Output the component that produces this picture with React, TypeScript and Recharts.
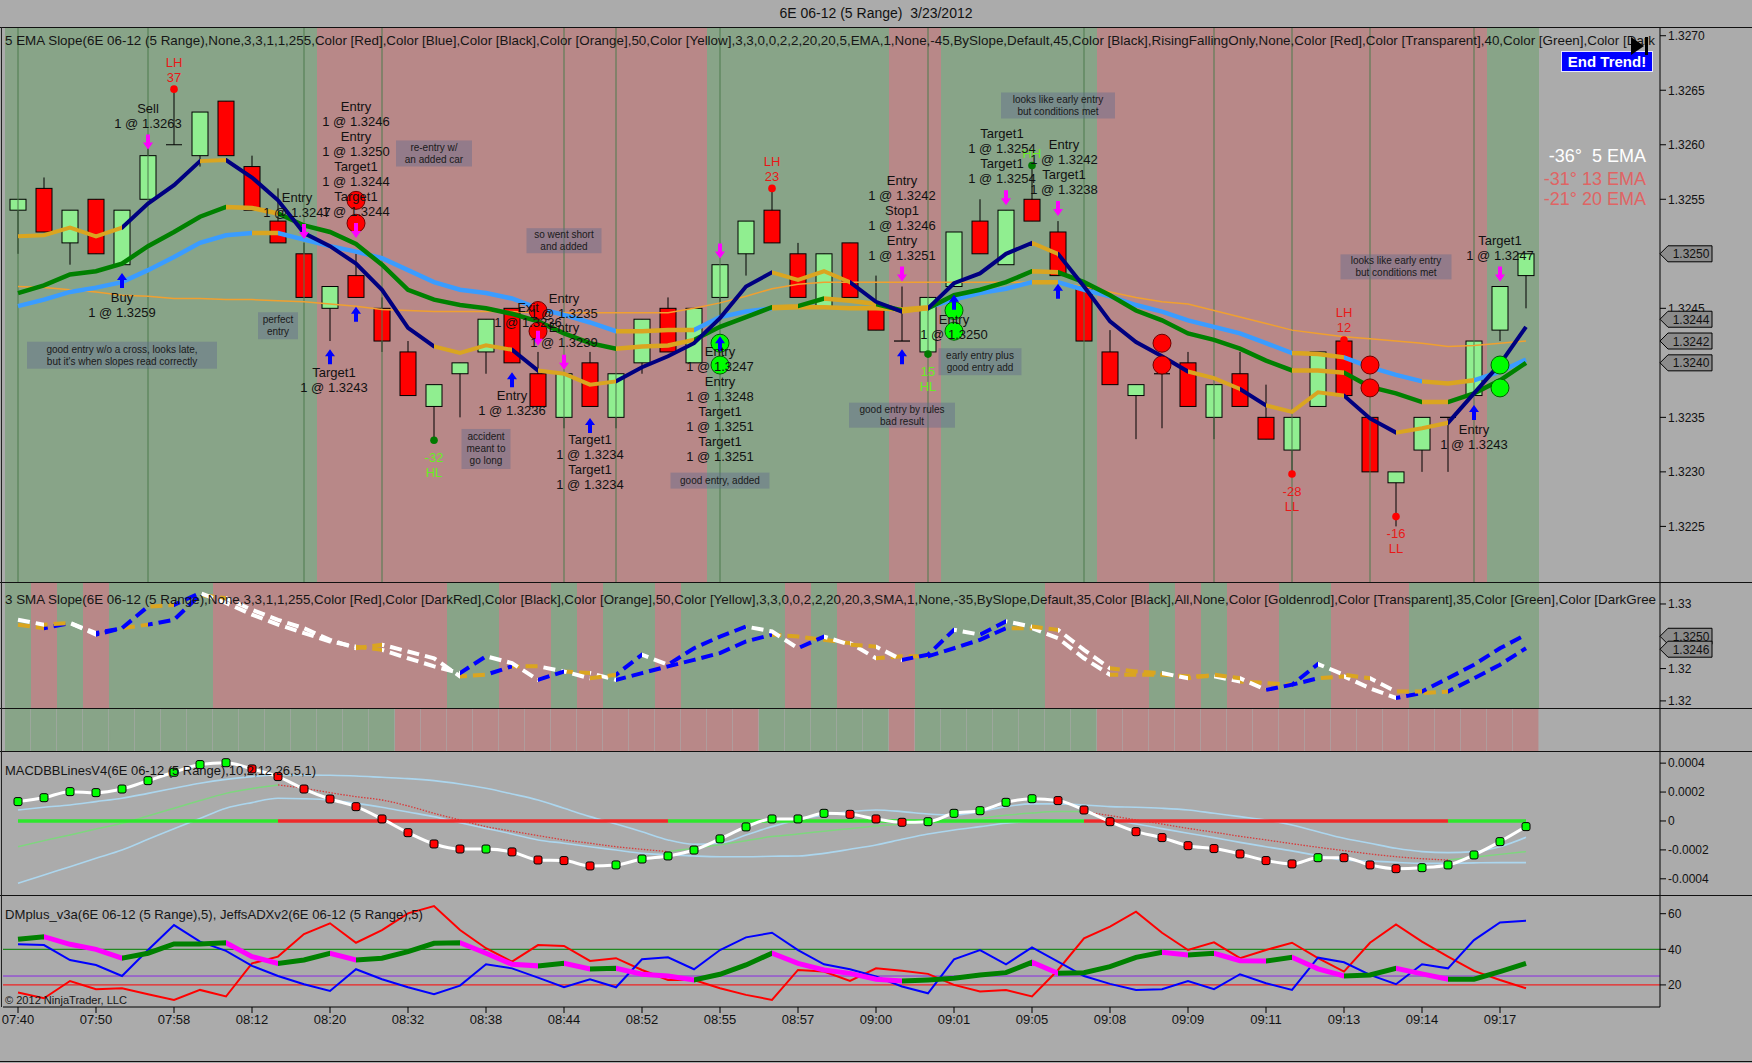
import React from "react";
import {
  ComposedChart,
  Bar,
  Line,
  XAxis,
  YAxis,
  ReferenceArea,
  ReferenceLine,
  ReferenceDot,
  Cell,
} from "recharts";

const FONT = '"Liberation Sans", Arial, sans-serif';
const W = 1752;
const H = 1063;
const AXIS_W = 92;
const SLOTS = 63;
const X_PAD = { left: 2, right: 17 };
const MARGIN = { top: 0, right: 0, bottom: 0, left: 3 };
const GREEN_BG = "#88a488";
const RED_BG = "#b88888";
const GOLD = "#daa520";

const runs = (spec: [string, number][]) => spec.map(([c, n]) => c.repeat(n)).join("");

const timeLabels = ["07:40", "07:50", "07:58", "08:12", "08:20", "08:32", "08:38", "08:44", "08:52", "08:55",
  "08:57", "09:00", "09:01", "09:05", "09:08", "09:09", "09:11", "09:13", "09:14", "09:17"];
const timeTicks = timeLabels.map((_, k) => k * 3);

// 5 range bars
const opens = [1.3254, 1.3256, 1.3251, 1.3255, 1.3249, 1.3255, 1.3260, 1.3259, 1.3264, 1.3258,
  1.3253, 1.3250, 1.3245, 1.3248, 1.3245, 1.3241, 1.3236, 1.3239, 1.3241, 1.3245,
  1.3239, 1.3235, 1.3240, 1.3235, 1.3240, 1.3245, 1.3240, 1.3246, 1.3250, 1.3254,
  1.3250, 1.3245, 1.3251, 1.3245, 1.3242, 1.3241, 1.3247, 1.3253, 1.3249, 1.3255,
  1.3252, 1.3247, 1.3241, 1.3237, 1.3239, 1.3240, 1.3235, 1.3239, 1.3235, 1.3232,
  1.3236, 1.3242, 1.3235, 1.3229, 1.3232, 1.3235, 1.3237, 1.3243, 1.3248];
const highs = [1.3255, 1.3257, 1.3254, 1.3255, 1.3254, 1.3260, 1.3265, 1.3263, 1.3264, 1.3259,
  1.3256, 1.3251, 1.3247, 1.3250, 1.3246, 1.3242, 1.3238, 1.3240, 1.3244, 1.3245,
  1.3241, 1.3239, 1.3241, 1.3239, 1.3244, 1.3246, 1.3245, 1.3249, 1.3253, 1.3256,
  1.3251, 1.3250, 1.3251, 1.3248, 1.3247, 1.3246, 1.3252, 1.3255, 1.3254, 1.3258,
  1.3253, 1.3247, 1.3243, 1.3238, 1.3239, 1.3241, 1.3238, 1.3241, 1.3238, 1.3235,
  1.3241, 1.3242, 1.3235, 1.3230, 1.3235, 1.3235, 1.3242, 1.3247, 1.3250];
const lows = [1.3250, 1.3252, 1.3249, 1.3250, 1.3249, 1.3255, 1.3260, 1.3258, 1.3259, 1.3254,
  1.3251, 1.3246, 1.3242, 1.3246, 1.3241, 1.3237, 1.3233, 1.3235, 1.3239, 1.3240,
  1.3236, 1.3234, 1.3236, 1.3234, 1.3239, 1.3241, 1.3240, 1.3244, 1.3248, 1.3251,
  1.3246, 1.3245, 1.3246, 1.3243, 1.3242, 1.3241, 1.3247, 1.3250, 1.3249, 1.3253,
  1.3248, 1.3242, 1.3238, 1.3233, 1.3234, 1.3236, 1.3233, 1.3236, 1.3233, 1.3230,
  1.3236, 1.3237, 1.3230, 1.3225, 1.3230, 1.3230, 1.3237, 1.3242, 1.3245];
const closes = [1.3255, 1.3252, 1.3254, 1.3250, 1.3254, 1.3259, 1.3260, 1.3263, 1.3259, 1.3254,
  1.3251, 1.3246, 1.3247, 1.3246, 1.3242, 1.3237, 1.3238, 1.3240, 1.3244, 1.3240,
  1.3236, 1.3239, 1.3236, 1.3239, 1.3244, 1.3241, 1.3245, 1.3249, 1.3253, 1.3251,
  1.3246, 1.3250, 1.3246, 1.3243, 1.3242, 1.3246, 1.3252, 1.3250, 1.3254, 1.3253,
  1.3248, 1.3242, 1.3238, 1.3238, 1.3239, 1.3236, 1.3238, 1.3236, 1.3233, 1.3235,
  1.3241, 1.3237, 1.3230, 1.3230, 1.3235, 1.3235, 1.3242, 1.3247, 1.3250];

// moving averages (n = slope colour, o = flat)
const ema5 = [1.32516, 1.32517, 1.32524, 1.32516, 1.32524, 1.32546, 1.32563, 1.32585, 1.32586, 1.32570,
  1.32549, 1.32519, 1.32507, 1.32491, 1.32467, 1.32432, 1.32415, 1.32409, 1.32416, 1.32412,
  1.32393, 1.32390, 1.32380, 1.32383, 1.32396, 1.32406, 1.32418, 1.32441, 1.32470, 1.32483,
  1.32476, 1.32484, 1.32474, 1.32456, 1.32447, 1.32450, 1.32473, 1.32482, 1.32500, 1.32510,
  1.32500, 1.32470, 1.32438, 1.32419, 1.32406, 1.32392, 1.32386, 1.32376, 1.32361, 1.32355,
  1.32373, 1.32370, 1.32349, 1.32336, 1.32340, 1.32345, 1.32372, 1.32399, 1.32433];
const ema5Slope = runs([["o", 4], ["n", 3], ["o", 1], ["n", 8], ["o", 3], ["n", 1], ["o", 3], ["n", 6], ["o", 3], ["n", 2],
  ["o", 1], ["n", 4], ["o", 1], ["n", 5], ["o", 2], ["n", 1], ["o", 3], ["n", 2], ["o", 2], ["n", 3]]);
const ema13 = [1.32464, 1.32471, 1.32481, 1.32484, 1.32491, 1.32507, 1.32520, 1.32534, 1.32543, 1.32542,
  1.32537, 1.32526, 1.32520, 1.32509, 1.32490, 1.32467, 1.32458, 1.32453, 1.32450, 1.32445,
  1.32438, 1.32427, 1.32418, 1.32413, 1.32415, 1.32416, 1.32421, 1.32433, 1.32442, 1.32451,
  1.32452, 1.32459, 1.32457, 1.32454, 1.32448, 1.32450, 1.32462, 1.32467, 1.32474, 1.32484,
  1.32483, 1.32474, 1.32462, 1.32448, 1.32439, 1.32427, 1.32421, 1.32413, 1.32402, 1.32393,
  1.32393, 1.32391, 1.32378, 1.32372, 1.32364, 1.32364, 1.32372, 1.32384, 1.32400];
const ema13Slope = runs([["n", 8], ["o", 2], ["n", 13], ["o", 3], ["n", 3], ["o", 1], ["n", 1], ["o", 2], ["n", 1], ["o", 1],
  ["n", 4], ["o", 1], ["n", 9], ["o", 2], ["n", 3], ["o", 1], ["n", 3]]);
const ema20 = [1.32452, 1.32458, 1.32465, 1.32469, 1.32474, 1.32485, 1.32497, 1.32510, 1.32517, 1.32519,
  1.32519, 1.32513, 1.32507, 1.32502, 1.32496, 1.32485, 1.32474, 1.32467, 1.32464, 1.32459,
  1.32450, 1.32444, 1.32437, 1.32429, 1.32429, 1.32430, 1.32430, 1.32442, 1.32447, 1.32450,
  1.32451, 1.32451, 1.32450, 1.32450, 1.32449, 1.32451, 1.32458, 1.32464, 1.32468, 1.32474,
  1.32474, 1.32467, 1.32461, 1.32453, 1.32447, 1.32439, 1.32433, 1.32427, 1.32418, 1.32409,
  1.32408, 1.32405, 1.32396, 1.32389, 1.32383, 1.32381, 1.32384, 1.32392, 1.32403];
const ema20Slope = runs([["n", 9], ["o", 1], ["n", 13], ["o", 3], ["n", 3], ["o", 6], ["n", 4], ["o", 1], ["n", 9], ["o", 2],
  ["n", 3], ["o", 2], ["n", 2]]);
const ema50 = [1.32470, 1.32469, 1.32467, 1.32465, 1.32462, 1.32461, 1.32459, 1.32459, 1.32458, 1.32458,
  1.32457, 1.32456, 1.32454, 1.32452, 1.32449, 1.32448, 1.32447, 1.32447, 1.32447, 1.32447,
  1.32446, 1.32446, 1.32446, 1.32446, 1.32446, 1.32446, 1.32450, 1.32455, 1.32461, 1.32468,
  1.32472, 1.32474, 1.32474, 1.32474, 1.32474, 1.32474, 1.32474, 1.32474, 1.32474, 1.32474,
  1.32474, 1.32470, 1.32465, 1.32460, 1.32456, 1.32454, 1.32448, 1.32442, 1.32436, 1.32430,
  1.32427, 1.32424, 1.32422, 1.32420, 1.32418, 1.32415, 1.32416, 1.32418, 1.32420];

// background trend state per bar
const mainShade = runs([["g", 12], ["r", 15], ["g", 7], ["r", 2], ["g", 6], ["r", 15], ["g", 2]]);
const smaShade = runs([["g", 1], ["r", 1], ["g", 1], ["r", 1], ["g", 4], ["r", 9], ["g", 2], ["r", 2], ["g", 1], ["r", 1],
  ["g", 2], ["r", 1], ["g", 4], ["r", 1], ["g", 1], ["r", 3], ["g", 5], ["r", 4], ["g", 1], ["r", 1], ["g", 1], ["r", 2],
  ["g", 2], ["r", 3], ["g", 5]]);
const bandShade = runs([["g", 15], ["r", 14], ["g", 5], ["r", 1], ["g", 7], ["r", 17]]);
const gridBars = [0, 5, 11, 14, 21, 23, 27, 35, 41, 46, 49, 52, 56];

// 3 SMA slope panel
const smaFast = [1.32551, 1.32536, 1.32541, 1.32505, 1.32525, 1.32592, 1.32597, 1.32634, 1.32603, 1.32567,
  1.32536, 1.32510, 1.32484, 1.32468, 1.32458, 1.32432, 1.32407, 1.32386, 1.32438, 1.32417,
  1.32365, 1.32391, 1.32370, 1.32381, 1.32443, 1.32412, 1.32463, 1.32499, 1.32530, 1.32515,
  1.32463, 1.32499, 1.32474, 1.32468, 1.32427, 1.32443, 1.32520, 1.32505, 1.32546, 1.32530,
  1.32520, 1.32458, 1.32401, 1.32391, 1.32386, 1.32370, 1.32381, 1.32370, 1.32334, 1.32350,
  1.32414, 1.32381, 1.32370, 1.32329, 1.32329, 1.32370, 1.32412, 1.32463, 1.32505];
const smaSlow = [1.32536, 1.32525, 1.32541, 1.32510, 1.32525, 1.32536, 1.32551, 1.32628, 1.32618, 1.32582,
  1.32551, 1.32525, 1.32489, 1.32463, 1.32474, 1.32453, 1.32432, 1.32376, 1.32381, 1.32407,
  1.32407, 1.32391, 1.32386, 1.32365, 1.32386, 1.32407, 1.32427, 1.32448, 1.32484, 1.32505,
  1.32499, 1.32489, 1.32479, 1.32432, 1.32438, 1.32438, 1.32463, 1.32489, 1.32525, 1.32525,
  1.32494, 1.32432, 1.32381, 1.32381, 1.32381, 1.32376, 1.32376, 1.32360, 1.32355, 1.32350,
  1.32370, 1.32376, 1.32339, 1.32309, 1.32324, 1.32329, 1.32370, 1.32412, 1.32463];

// MACD BB lines
const macdLine = [0.000134, 0.000161, 0.000203, 0.000196, 0.000221, 0.000279, 0.000337, 0.000390, 0.000403, 0.000360,
  0.000307, 0.000221, 0.000152, 0.000099, 0.000014, -0.000081, -0.000159, -0.000194, -0.000194, -0.000214,
  -0.000270, -0.000274, -0.000311, -0.000304, -0.000263, -0.000242, -0.000201, -0.000124, -0.000041, 0.000014,
  0.000014, 0.000053, 0.000046, 0.000014, -0.000009, -0.000005, 0.000053, 0.000071, 0.000129, 0.000154,
  0.000141, 0.000076, -0.000005, -0.000074, -0.000115, -0.000171, -0.000191, -0.000228, -0.000274, -0.000297,
  -0.000254, -0.000254, -0.000304, -0.000330, -0.000323, -0.000304, -0.000235, -0.000143, -0.000039];
const macdDotColors = runs([["g", 9], ["r", 9], ["g", 1], ["r", 4], ["g", 9], ["r", 3], ["g", 5], ["r", 10], ["g", 1], ["r", 3], ["g", 5]]);
const bbUpper = [0.000076, 0.000095, 0.000111, 0.000134, 0.000157, 0.000191, 0.000226, 0.000261, 0.000288, 0.000307,
  0.000318, 0.000318, 0.000316, 0.000311, 0.000302, 0.000293, 0.000279, 0.000256, 0.000226, 0.000187,
  0.000145, 0.000088, 0.000030, -0.000021, -0.000074, -0.000131, -0.000161, -0.000154, -0.000097, -0.000039,
  0.000007, 0.000041, 0.000065, 0.000076, 0.000065, 0.000048, 0.000041, 0.000065, 0.000099, 0.000118,
  0.000118, 0.000111, 0.000099, 0.000095, 0.000088, 0.000076, 0.000053, 0.000030, 0.000007, -0.000028,
  -0.000074, -0.000120, -0.000154, -0.000189, -0.000212, -0.000219, -0.000212, -0.000178, -0.000113];
const bbLower = [-0.000431, -0.000373, -0.000316, -0.000258, -0.000201, -0.000127, -0.000053, 0.000018, 0.000088, 0.000127,
  0.000157, 0.000154, 0.000145, 0.000122, 0.000095, 0.000062, 0.000030, -0.000012, -0.000051, -0.000090,
  -0.000131, -0.000154, -0.000178, -0.000201, -0.000224, -0.000233, -0.000242, -0.000247, -0.000247, -0.000244,
  -0.000242, -0.000224, -0.000196, -0.000166, -0.000127, -0.000090, -0.000062, -0.000039, -0.000016, -0.000002,
  0.000007, 0.000007, 0.000007, -0.000021, -0.000053, -0.000085, -0.000115, -0.000148, -0.000178, -0.000207,
  -0.000240, -0.000270, -0.000277, -0.000286, -0.000293, -0.000293, -0.000290, -0.000288, -0.000288];
const bbMid = [-0.000178, -0.000136, -0.000097, -0.000055, -0.000016, 0.000035, 0.000088, 0.000141, 0.000191, 0.000224,
  0.000249, 0.000226, 0.000196, 0.000168, 0.000145, 0.000104, 0.000053, 0.000007, -0.000039, -0.000071,
  -0.000101, -0.000131, -0.000154, -0.000178, -0.000196, -0.000212, -0.000189, -0.000164, -0.000136, -0.000108,
  -0.000090, -0.000071, -0.000053, -0.000035, -0.000021, -0.000012, -0.000005, 0.000018, 0.000039, 0.000055,
  0.000065, 0.000065, 0.000037, 0.000007, -0.000021, -0.000051, -0.000078, -0.000106, -0.000131, -0.000157,
  -0.000182, -0.000205, -0.000228, -0.000247, -0.000261, -0.000270, -0.000251, -0.000231, -0.000212];
const macdTrend = [
  { from: 0, to: 10, up: true },
  { from: 10, to: 25, up: false },
  { from: 25, to: 41, up: true },
  { from: 41, to: 55, up: false },
  { from: 55, to: 58, up: true },
];

// DM / ADX
const diMinus = [15.7, 12.5, 22.2, 17.6, 18.1, 14.8, 11.6, 17.2, 13.5, 32.1,
  35.9, 48.6, 54.6, 43.7, 50.8, 60.2, 64.3, 50.8, 40.6, 33.1,
  42.4, 41.9, 33.5, 35.0, 28.4, 22.8, 22.8, 18.1, 14.4, 11.6,
  28.4, 27.5, 22.2, 29.3, 28.0, 26.2, 20.0, 16.3, 17.2, 13.5,
  28.4, 46.2, 52.7, 61.1, 49.3, 39.6, 43.9, 35.0, 39.6, 43.7,
  35.0, 27.5, 43.7, 54.0, 44.3, 35.9, 27.9, 22.8, 18.1];
const diPlus = [42.8, 42.4, 34.0, 31.2, 25.0, 39.6, 53.6, 44.3, 39.1, 30.7,
  25.0, 20.4, 16.6, 28.8, 23.2, 18.7, 14.8, 19.6, 31.6, 29.3,
  24.1, 18.7, 23.2, 18.7, 34.4, 35.5, 28.8, 39.6, 46.7, 49.3,
  39.6, 31.6, 28.8, 24.7, 19.1, 15.3, 34.4, 39.6, 31.6, 41.1,
  33.1, 25.0, 20.6, 17.2, 17.6, 22.2, 17.6, 26.0, 20.9, 17.2,
  35.3, 32.7, 25.6, 20.4, 31.6, 29.3, 45.2, 55.1, 56.1];
const adx = [45.6, 47.1, 42.8, 40.0, 35.0, 37.8, 43.0, 43.0, 43.7, 35.9,
  32.1, 34.0, 37.8, 34.0, 35.0, 38.7, 43.4, 43.7, 37.8, 31.6,
  30.7, 32.1, 29.0, 29.3, 26.0, 25.0, 22.8, 26.0, 31.2, 37.8,
  32.1, 28.4, 26.5, 23.2, 22.2, 22.8, 23.7, 25.6, 26.9, 32.7,
  26.5, 26.9, 30.3, 35.5, 38.3, 36.8, 37.8, 33.6, 33.4, 35.5,
  29.0, 25.0, 25.6, 29.3, 26.2, 23.2, 23.2, 27.5, 32.1];

// chart annotations (bar index, price)
const tradeLabels = [
  { i: 5, p: 1.32633, lines: ["Sell", "1 @ 1.3263"] },
  { i: 4, p: 1.3246, lines: ["Buy", "1 @ 1.3259"] },
  { i: 13, p: 1.32635, lines: ["Entry", "1 @ 1.3246", "Entry", "1 @ 1.3250", "Target1", "1 @ 1.3244", "Target1", "1 @ 1.3244"] },
  { i: 11, p: 1.32552, lines: ["Entry", "1 @ 1.3247"], dx: -7 },
  { i: 12, p: 1.32391, lines: ["Target1", "1 @ 1.3243"], dx: 4 },
  { i: 20, p: 1.32451, lines: ["Exit", "1 @ 1.3236"], dx: -10 },
  { i: 21, p: 1.32459, lines: ["Entry", "1 @ 1.3235"] },
  { i: 21, p: 1.32432, lines: ["Entry", "1 @ 1.3239"] },
  { i: 19, p: 1.3237, lines: ["Entry", "1 @ 1.3236"] },
  { i: 22, p: 1.3233, lines: ["Target1", "1 @ 1.3234", "Target1", "1 @ 1.3234"] },
  { i: 27, p: 1.3241, lines: ["Entry", "1 @ 1.3247", "Entry", "1 @ 1.3248", "Target1", "1 @ 1.3251", "Target1", "1 @ 1.3251"] },
  { i: 34, p: 1.32567, lines: ["Entry", "1 @ 1.3242", "Stop1", "1 @ 1.3246", "Entry", "1 @ 1.3251"] },
  { i: 36, p: 1.3244, lines: ["Entry", "1 @ 1.3250"] },
  { i: 38, p: 1.3261, lines: ["Target1", "1 @ 1.3254", "Target1", "1 @ 1.3254"], dx: -4 },
  { i: 40, p: 1.326, lines: ["Entry", "1 @ 1.3242", "Target1", "1 @ 1.3238"], dx: 6 },
  { i: 56, p: 1.32339, lines: ["Entry", "1 @ 1.3243"] },
  { i: 57, p: 1.32512, lines: ["Target1", "1 @ 1.3247"] },
];
const swings = [
  { i: 6, p: 1.32651, lines: ["LH", "37"], above: true, red: true },
  { i: 29, p: 1.3256, lines: ["LH", "23"], above: true, red: true },
  { i: 16, p: 1.32329, lines: ["-32", "HL"], above: false, red: false },
  { i: 35, p: 1.32408, lines: ["15", "HL"], above: false, red: false },
  { i: 39, p: 1.32581, lines: ["HH"], above: true, red: false },
  { i: 51, p: 1.32421, lines: ["LH", "12"], above: true, red: true },
  { i: 49, p: 1.32298, lines: ["-28", "LL"], above: false, red: true },
  { i: 53, p: 1.32259, lines: ["-16", "LL"], above: false, red: true },
];
const notes = [
  { i: 4, p: 1.32407, w: 190, h: 27, lines: ["good entry w/o a cross, looks late,", "but it's when slopes read correctly"] },
  { i: 10, p: 1.32434, w: 40, h: 27, lines: ["perfect", "entry"] },
  { i: 16, p: 1.32592, w: 76, h: 26, lines: ["re-entry w/", "an added car"] },
  { i: 21, p: 1.32512, w: 75, h: 25, lines: ["so went short", "and added"] },
  { i: 18, p: 1.32321, w: 49, h: 40, lines: ["accident", "meant to", "go long"] },
  { i: 27, p: 1.32292, w: 99, h: 16, lines: ["good entry, added"] },
  { i: 34, p: 1.32352, w: 106, h: 25, lines: ["good entry by rules", "bad result"] },
  { i: 37, p: 1.32401, w: 83, h: 27, lines: ["early entry plus", "good entry add"] },
  { i: 40, p: 1.32636, w: 114, h: 26, lines: ["looks like early entry", "but conditions met"] },
  { i: 53, p: 1.32488, w: 111, h: 25, lines: ["looks like early entry", "but conditions met"] },
];
const signalDots = [
  { i: 13, p: 1.32549, red: true }, { i: 13, p: 1.32528, red: true },
  { i: 20, p: 1.32448, red: true }, { i: 20, p: 1.32429, red: true },
  { i: 27, p: 1.32418, red: false }, { i: 27, p: 1.32398, red: false },
  { i: 36, p: 1.32448, red: false }, { i: 36, p: 1.32429, red: false },
  { i: 44, p: 1.32418, red: true }, { i: 44, p: 1.32398, red: true },
  { i: 52, p: 1.32398, red: true }, { i: 52, p: 1.32377, red: true },
  { i: 57, p: 1.32398, red: false }, { i: 57, p: 1.32377, red: false },
];
const sellArrows = [[5, 1.32602], [11, 1.3252], [13, 1.32521], [20, 1.32422], [21, 1.324], [27, 1.32502], [34, 1.32481], [38, 1.32551], [40, 1.32541], [57, 1.32481]];
const buyArrows = [[4, 1.32476], [12, 1.32406], [13, 1.32445], [19, 1.32385], [22, 1.32343], [27, 1.32418], [34, 1.32406], [36, 1.32456], [40, 1.32466], [56, 1.32355]];

const mainTicks = [1.3225, 1.323, 1.3235, 1.3245, 1.3255, 1.326, 1.3265, 1.327];
const mainMarkers = [1.325, 1.3244, 1.3242, 1.324];
const smaTicks = [1.323, 1.324, 1.326];
const smaMarkers = [1.325, 1.3246];

const mainHeader = "5 EMA Slope(6E 06-12 (5 Range),None,3,3,1,1,255,Color [Red],Color [Blue],Color [Black],Color [Orange],50,Color [Yellow],3,3,0,0,2,2,20,20,5,EMA,1,None,-45,BySlope,Default,45,Color [Black],RisingFallingOnly,None,Color [Red],Color [Transparent],40,Color [Green],Color [Dark";
const smaHeader = "3 SMA Slope(6E 06-12 (5 Range),None,3,3,1,1,255,Color [Red],Color [DarkRed],Color [Black],Color [Orange],50,Color [Yellow],3,3,0,0,2,2,20,20,3,SMA,1,None,-35,BySlope,Default,35,Color [Black],All,None,Color [Goldenrod],Color [Transparent],35,Color [Green],Color [DarkGree";

const inTrend = (i: number, up: boolean) => macdTrend.some((r) => r.up === up && i >= r.from && i <= r.to);

const rows = Array.from({ length: SLOTS }, (_, i) => ({
  i,
  open: opens[i],
  high: highs[i],
  low: lows[i],
  close: closes[i],
  ema5: ema5[i],
  ema13: ema13[i],
  ema20: ema20[i],
  ema50: ema50[i],
  smaFast: smaFast[i],
  smaSlow: smaSlow[i],
  band: bandShade[i],
  macd: macdLine[i],
  bbUpper: bbUpper[i],
  bbLower: bbLower[i],
  bbMidUp: i < bbMid.length && inTrend(i, true) ? bbMid[i] : undefined,
  bbMidDown: i < bbMid.length && inTrend(i, false) ? bbMid[i] : undefined,
  diPlus: diPlus[i],
  diMinus: diMinus[i],
  adx: adx[i],
}));

const toAreas = (s: string) => {
  const out: { from: number; to: number; c: string }[] = [];
  let start = 0;
  for (let k = 1; k <= s.length; k++) {
    if (k === s.length || s[k] !== s[start]) {
      out.push({ from: start, to: k - 1, c: s[start] });
      start = k;
    }
  }
  return out;
};

const slopeColors = (v: number[], th: number, up: string, down: string, flat: string) =>
  v.slice(1).map((x, k) => (x - v[k] > th ? up : x - v[k] < -th ? down : flat));

function SegGradient({ id, colors }: { id: string; colors: string[] }) {
  const n = colors.length;
  const stops: any[] = [];
  colors.forEach((c, k) => {
    stops.push(<stop key={`${k}a`} offset={k / n} stopColor={c} />);
    stops.push(<stop key={`${k}b`} offset={(k + 1) / n} stopColor={c} />);
  });
  return (
    <linearGradient id={id} x1="0" y1="0" x2="1" y2="0">
      {stops}
    </linearGradient>
  );
}

function Candle(props: any) {
  const { x, y, width, height, payload } = props;
  if (!payload || payload.high == null) return <g />;
  const { open, close, high, low } = payload;
  const top = Math.min(y, y + height);
  const h = Math.abs(height);
  const k = h / (high - low);
  const py = (v: number) => top + (high - v) * k;
  const cx = x + width / 2;
  const bTop = py(Math.max(open, close));
  const bBot = py(Math.min(open, close));
  return (
    <g>
      <line x1={cx} x2={cx} y1={top} y2={top + h} stroke="#000" strokeWidth={1} />
      {open === close ? (
        <line x1={x} x2={x + width} y1={bTop} y2={bTop} stroke="#000" strokeWidth={1.2} />
      ) : (
        <rect x={x} y={bTop} width={width} height={Math.max(1, bBot - bTop)}
          fill={close > open ? "#90ee90" : "#ff0000"} stroke="#000" strokeWidth={1} />
      )}
    </g>
  );
}

const priceTick = (markers: number[], digits: number) => (props: any) => {
  const { x, y, payload } = props;
  const v = payload.value;
  if (markers.includes(v)) {
    return (
      <g>
        <path d={`M${x - 8},${y} L${x},${y - 8} L${x + 44},${y - 8} L${x + 44},${y + 8} L${x},${y + 8} Z`}
          fill="#8c8c8c" stroke="#000" strokeWidth={1} />
        <text x={x + 23} y={y + 4.5} textAnchor="middle" fontSize={12} fill="#111" fontFamily={FONT}>
          {v.toFixed(4)}
        </text>
      </g>
    );
  }
  return (
    <text x={x} y={y + 4.5} fontSize={12} fill="#111" fontFamily={FONT}>
      {v.toFixed(digits)}
    </text>
  );
};

const axisTick = { fontSize: 12, fill: "#111", fontFamily: FONT };

const at = (key: string, i: number, p: number, draw: (cx: number, cy: number) => any) => (
  <ReferenceDot key={key} x={i} y={p} r={0} ifOverflow="visible"
    shape={(s: any) => (s.cx == null ? <g /> : draw(s.cx, s.cy))} />
);

function hAxis() {
  return <XAxis dataKey="i" type="category" scale="band" hide padding={X_PAD} />;
}

function shading(s: string, prefix: string) {
  return toAreas(s).map((a) => (
    <ReferenceArea key={`${prefix}${a.from}`} x1={a.from} x2={a.to} fill={a.c === "g" ? GREEN_BG : RED_BG}
      fillOpacity={1} stroke="none" />
  ));
}

function MainPanel() {
  return (
    <ComposedChart width={W} height={555} data={rows} margin={MARGIN}>
      {hAxis()}
      <YAxis orientation="right" width={AXIS_W} domain={[1.32199, 1.32708]} allowDataOverflow
        ticks={[...mainTicks, ...mainMarkers]} interval={0} tick={priceTick(mainMarkers, 4)}
        tickLine={{ stroke: "#000" }} axisLine={{ stroke: "#000" }} />
      {shading(mainShade, "m")}
      {gridBars.map((i) => (
        <ReferenceLine key={`v${i}`} x={i} stroke="#4c7a4c" strokeWidth={1} />
      ))}
      <Bar dataKey={(d: any) => (d.high == null ? null : [d.low, d.high])} barSize={16} shape={Candle}
        isAnimationActive={false} />
      <Line dataKey="ema50" type="linear" stroke="#f0a030" strokeWidth={1.5} dot={false} isAnimationActive={false} />
      <Line dataKey="ema20" type="linear" stroke="url(#gEma20)" strokeWidth={4.5} dot={false} isAnimationActive={false} />
      <Line dataKey="ema13" type="linear" stroke="url(#gEma13)" strokeWidth={4.5} dot={false} isAnimationActive={false} />
      <Line dataKey="ema5" type="linear" stroke="url(#gEma5)" strokeWidth={4} dot={false} isAnimationActive={false} />
      {notes.map((n, k) =>
        at(`n${k}`, n.i, n.p, (cx, cy) => (
          <g>
            <rect x={cx - n.w / 2} y={cy - n.h / 2} width={n.w} height={n.h} fill="rgba(96,104,140,0.42)" />
            {n.lines.map((t, j) => (
              <text key={j} x={cx} y={cy - (n.lines.length - 1) * 6 + 3.5 + j * 12} textAnchor="middle"
                fontSize={10} fill="#1a1a1a" fontFamily={FONT}>
                {t}
              </text>
            ))}
          </g>
        ))
      )}
      {signalDots.map((d, k) =>
        at(`c${k}`, d.i, d.p, (cx, cy) => (
          <circle cx={cx} cy={cy} r={9} fill={d.red ? "#ff0000" : "#00ff00"} stroke={d.red ? "#700000" : "#006000"} strokeWidth={1} />
        ))
      )}
      {sellArrows.map(([i, p], k) =>
        at(`sa${k}`, i, p, (cx, cy) => (
          <path d={`M${cx - 2},${cy - 8} h4 v8 h3 l-5,7 l-5,-7 h3 z`} fill="#ff00ff" />
        ))
      )}
      {buyArrows.map(([i, p], k) =>
        at(`ba${k}`, i, p, (cx, cy) => (
          <path d={`M${cx - 2},${cy + 8} h4 v-8 h3 l-5,-7 l-5,7 h3 z`} fill="#0000ff" />
        ))
      )}
      {swings.map((s, k) =>
        at(`s${k}`, s.i, s.p, (cx, cy) => (
          <g>
            <circle cx={cx} cy={cy} r={3.8} fill={s.red ? "#ff0000" : "#007a00"} />
            {s.lines.map((t, j) => {
              const off = s.above ? -12 - (s.lines.length - 1 - j) * 15 : 17 + j * 15;
              return (
                <text key={j} x={cx} y={cy + off + 4.5} textAnchor="middle" fontSize={13}
                  fill={s.red ? "#e81818" : "#66ee22"} fontFamily={FONT}>
                  {t}
                </text>
              );
            })}
          </g>
        ))
      )}
      {tradeLabels.map((t, k) =>
        at(`t${k}`, t.i, t.p, (cx, cy) => (
          <g>
            {t.lines.map((s, j) => (
              <text key={j} x={cx + (t.dx || 0)} y={cy + 4.5 + j * 15} textAnchor="middle" fontSize={13}
                fill="#111" fontFamily={FONT}>
                {s}
              </text>
            ))}
          </g>
        ))
      )}
    </ComposedChart>
  );
}

function SmaPanel() {
  return (
    <ComposedChart width={W} height={126} data={rows} margin={MARGIN}>
      {hAxis()}
      <YAxis orientation="right" width={AXIS_W} domain={[1.32278, 1.32668]} allowDataOverflow
        ticks={[...smaTicks, ...smaMarkers]} interval={0} tick={priceTick(smaMarkers, 2)}
        tickLine={{ stroke: "#000" }} axisLine={{ stroke: "#000" }} />
      {shading(smaShade, "s")}
      <Line dataKey="smaSlow" type="linear" stroke="url(#gSmaSlow)" strokeWidth={4} strokeDasharray="12 6"
        dot={false} isAnimationActive={false} />
      <Line dataKey="smaFast" type="linear" stroke="url(#gSmaFast)" strokeWidth={4} strokeDasharray="12 6"
        dot={false} isAnimationActive={false} />
    </ComposedChart>
  );
}

function BandPanel() {
  return (
    <ComposedChart width={W} height={43} data={rows} margin={MARGIN}>
      {hAxis()}
      <YAxis yAxisId="v" orientation="right" width={AXIS_W} domain={[-0.205, 1]} ticks={[0]} interval={0}
        tick={axisTick} tickLine={{ stroke: "#000" }} axisLine={{ stroke: "#000" }} />
      <YAxis yAxisId="s" hide domain={[0, 1]} />
      <Bar yAxisId="s" dataKey={(d: any) => (d.band ? 1 : null)} barSize={26} isAnimationActive={false}>
        {rows.map((r) => {
          const c = r.band === "g" ? GREEN_BG : RED_BG;
          return <Cell key={r.i} fill={c} stroke={c} strokeWidth={2} />;
        })}
      </Bar>
    </ComposedChart>
  );
}

function MacdPanel() {
  return (
    <ComposedChart width={W} height={144} data={rows} margin={MARGIN}>
      {hAxis()}
      <YAxis orientation="right" width={AXIS_W} domain={[-0.000512, 0.000484]} allowDataOverflow
        ticks={[-0.0004, -0.0002, 0, 0.0002, 0.0004]} interval={0}
        tickFormatter={(v: number) => (v === 0 ? "0" : v.toFixed(4))} tick={axisTick}
        tickLine={{ stroke: "#000" }} axisLine={{ stroke: "#000" }} />
      <Line dataKey="bbUpper" type="monotone" stroke="#acd6ee" strokeWidth={1.6} dot={false} isAnimationActive={false} />
      <Line dataKey="bbLower" type="monotone" stroke="#acd6ee" strokeWidth={1.6} dot={false} isAnimationActive={false} />
      <Line dataKey="bbMidUp" type="monotone" stroke="#7ed67e" strokeWidth={1.5} dot={false} isAnimationActive={false} />
      <Line dataKey="bbMidDown" type="monotone" stroke="#d83a3a" strokeWidth={1.3} strokeDasharray="1.5 1.5" dot={false}
        isAnimationActive={false} />
      {macdTrend.map((r) => (
        <ReferenceLine key={`z${r.from}`} segment={[{ x: r.from, y: 0 }, { x: r.to, y: 0 }]}
          stroke={r.up ? "#2ee62e" : "#ee2a2a"} strokeWidth={3.5} />
      ))}
      <Line dataKey="macd" type="monotone" stroke="#ffffff" strokeWidth={3} isAnimationActive={false}
        dot={(p: any) => {
          const { cx, cy, index } = p;
          if (cx == null || cy == null || index >= macdLine.length) return <g key={`md${index}`} />;
          const up = macdDotColors[index] === "g";
          return (
            <rect key={`md${index}`} x={cx - 4} y={cy - 4} width={8} height={8} rx={2}
              fill={up ? "#00ff00" : "#ff0000"} stroke="#000" strokeWidth={1} />
          );
        }} />
    </ComposedChart>
  );
}

function DmPanel() {
  return (
    <ComposedChart width={W} height={152} data={rows} margin={MARGIN}>
      <XAxis dataKey="i" type="category" scale="band" padding={X_PAD} height={40} ticks={timeTicks} interval={0}
        tickFormatter={(v: number) => timeLabels[v / 3] ?? ""} axisLine={{ stroke: "#000" }}
        tickLine={{ stroke: "#000" }} tickSize={6} tick={{ fontSize: 13, fill: "#111", fontFamily: FONT }} />
      <YAxis orientation="right" width={AXIS_W} domain={[7.6, 70.5]} allowDataOverflow ticks={[20, 40, 60]}
        interval={0} tick={axisTick} tickLine={{ stroke: "#000" }} axisLine={{ stroke: "#000" }} />
      <ReferenceLine y={40} stroke="#008000" strokeWidth={1} />
      <ReferenceLine y={25} stroke="#8a2be2" strokeWidth={1} />
      <ReferenceLine y={20} stroke="#ff0000" strokeWidth={1} />
      <Line dataKey="diMinus" type="linear" stroke="#ff0000" strokeWidth={2} dot={false} isAnimationActive={false} />
      <Line dataKey="diPlus" type="linear" stroke="#0000ff" strokeWidth={2} dot={false} isAnimationActive={false} />
      <Line dataKey="adx" type="linear" stroke="url(#gAdx)" strokeWidth={5} dot={false} isAnimationActive={false} />
    </ComposedChart>
  );
}

export default function App() {
  const emaMap = (s: string, main: string) => s.split("").map((c) => (c === "o" ? GOLD : main));
  const smaCols = (v: number[]) => slopeColors(v, 0.00012, "#0000ff", "#ffffff", GOLD);
  const adxCols = adx.slice(1).map((x, k) => (x >= adx[k] ? "#008000" : "#ff00ff"));
  const hr = (y: number, x2 = W, x1 = 0) => <line x1={x1} x2={x2} y1={y} y2={y} stroke="#111" strokeWidth={1} />;
  return (
    <div style={{ position: "absolute", left: 0, top: 0, width: W, height: H, background: "#ababab", overflow: "hidden", fontFamily: FONT }}>
      <svg width={0} height={0} style={{ position: "absolute" }}>
        <defs>
          <SegGradient id="gEma5" colors={emaMap(ema5Slope, "#000080")} />
          <SegGradient id="gEma13" colors={emaMap(ema13Slope, "#008000")} />
          <SegGradient id="gEma20" colors={emaMap(ema20Slope, "#3a9cff")} />
          <SegGradient id="gSmaFast" colors={smaCols(smaFast)} />
          <SegGradient id="gSmaSlow" colors={smaCols(smaSlow)} />
          <SegGradient id="gAdx" colors={adxCols} />
        </defs>
      </svg>
      <div style={{ position: "absolute", left: 0, top: 27 }}><MainPanel /></div>
      <div style={{ position: "absolute", left: 0, top: 582 }}><SmaPanel /></div>
      <div style={{ position: "absolute", left: 0, top: 708 }}><BandPanel /></div>
      <div style={{ position: "absolute", left: 0, top: 751 }}><MacdPanel /></div>
      <div style={{ position: "absolute", left: 0, top: 895 }}><DmPanel /></div>
      <svg width={W} height={H} style={{ position: "absolute", left: 0, top: 0, pointerEvents: "none" }} fontFamily={FONT}>
        <text x={876} y={18} textAnchor="middle" fontSize={14} fill="#111" style={{ whiteSpace: "pre" }}>
          {"6E 06-12 (5 Range)  3/23/2012"}
        </text>
        {hr(27.5)}
        {hr(582.5)}
        {hr(708.5)}
        {hr(751.5)}
        {hr(895.5)}
        {hr(1061.5)}
        <line x1={1.5} x2={1.5} y1={27} y2={1007} stroke="#222" strokeWidth={1} />
        <text x={5} y={45} fontSize={13} fill="#151515" textLength={1650} lengthAdjust="spacingAndGlyphs">{mainHeader}</text>
        <text x={5} y={604} fontSize={13} fill="#151515" textLength={1651} lengthAdjust="spacingAndGlyphs">{smaHeader}</text>
        <text x={5} y={775} fontSize={13} fill="#151515" textLength={311} lengthAdjust="spacingAndGlyphs">
          MACDBBLinesV4(6E 06-12 (5 Range),10,2,12,26,5,1)
        </text>
        <text x={5} y={919} fontSize={13} fill="#151515" textLength={418} lengthAdjust="spacingAndGlyphs">
          DMplus_v3a(6E 06-12 (5 Range),5), JeffsADXv2(6E 06-12 (5 Range),5)
        </text>
        <text x={5} y={1004} fontSize={11} fill="#151515" textLength={122} lengthAdjust="spacingAndGlyphs">
          © 2012 NinjaTrader, LLC
        </text>
        <rect x={1561.5} y={51.5} width={91} height={20} fill="#0000ff" stroke="#e8e8ff" strokeWidth={1} />
        <text x={1607} y={67} textAnchor="middle" fontSize={15} fontWeight="bold" fill="#ffffff">End Trend!</text>
        <polygon points="1631,37 1631,55 1644,46" fill="#000" />
        <rect x={1645} y={37} width={3} height={18} fill="#000" />
        <text x={1646} y={162} textAnchor="end" fontSize={18} fill="#ffffff" style={{ whiteSpace: "pre" }}>{"-36°  5 EMA"}</text>
        <text x={1646} y={185} textAnchor="end" fontSize={18} fill="#e06464">{"-31° 13 EMA"}</text>
        <text x={1646} y={205} textAnchor="end" fontSize={18} fill="#e06464">{"-21° 20 EMA"}</text>
      </svg>
    </div>
  );
}
